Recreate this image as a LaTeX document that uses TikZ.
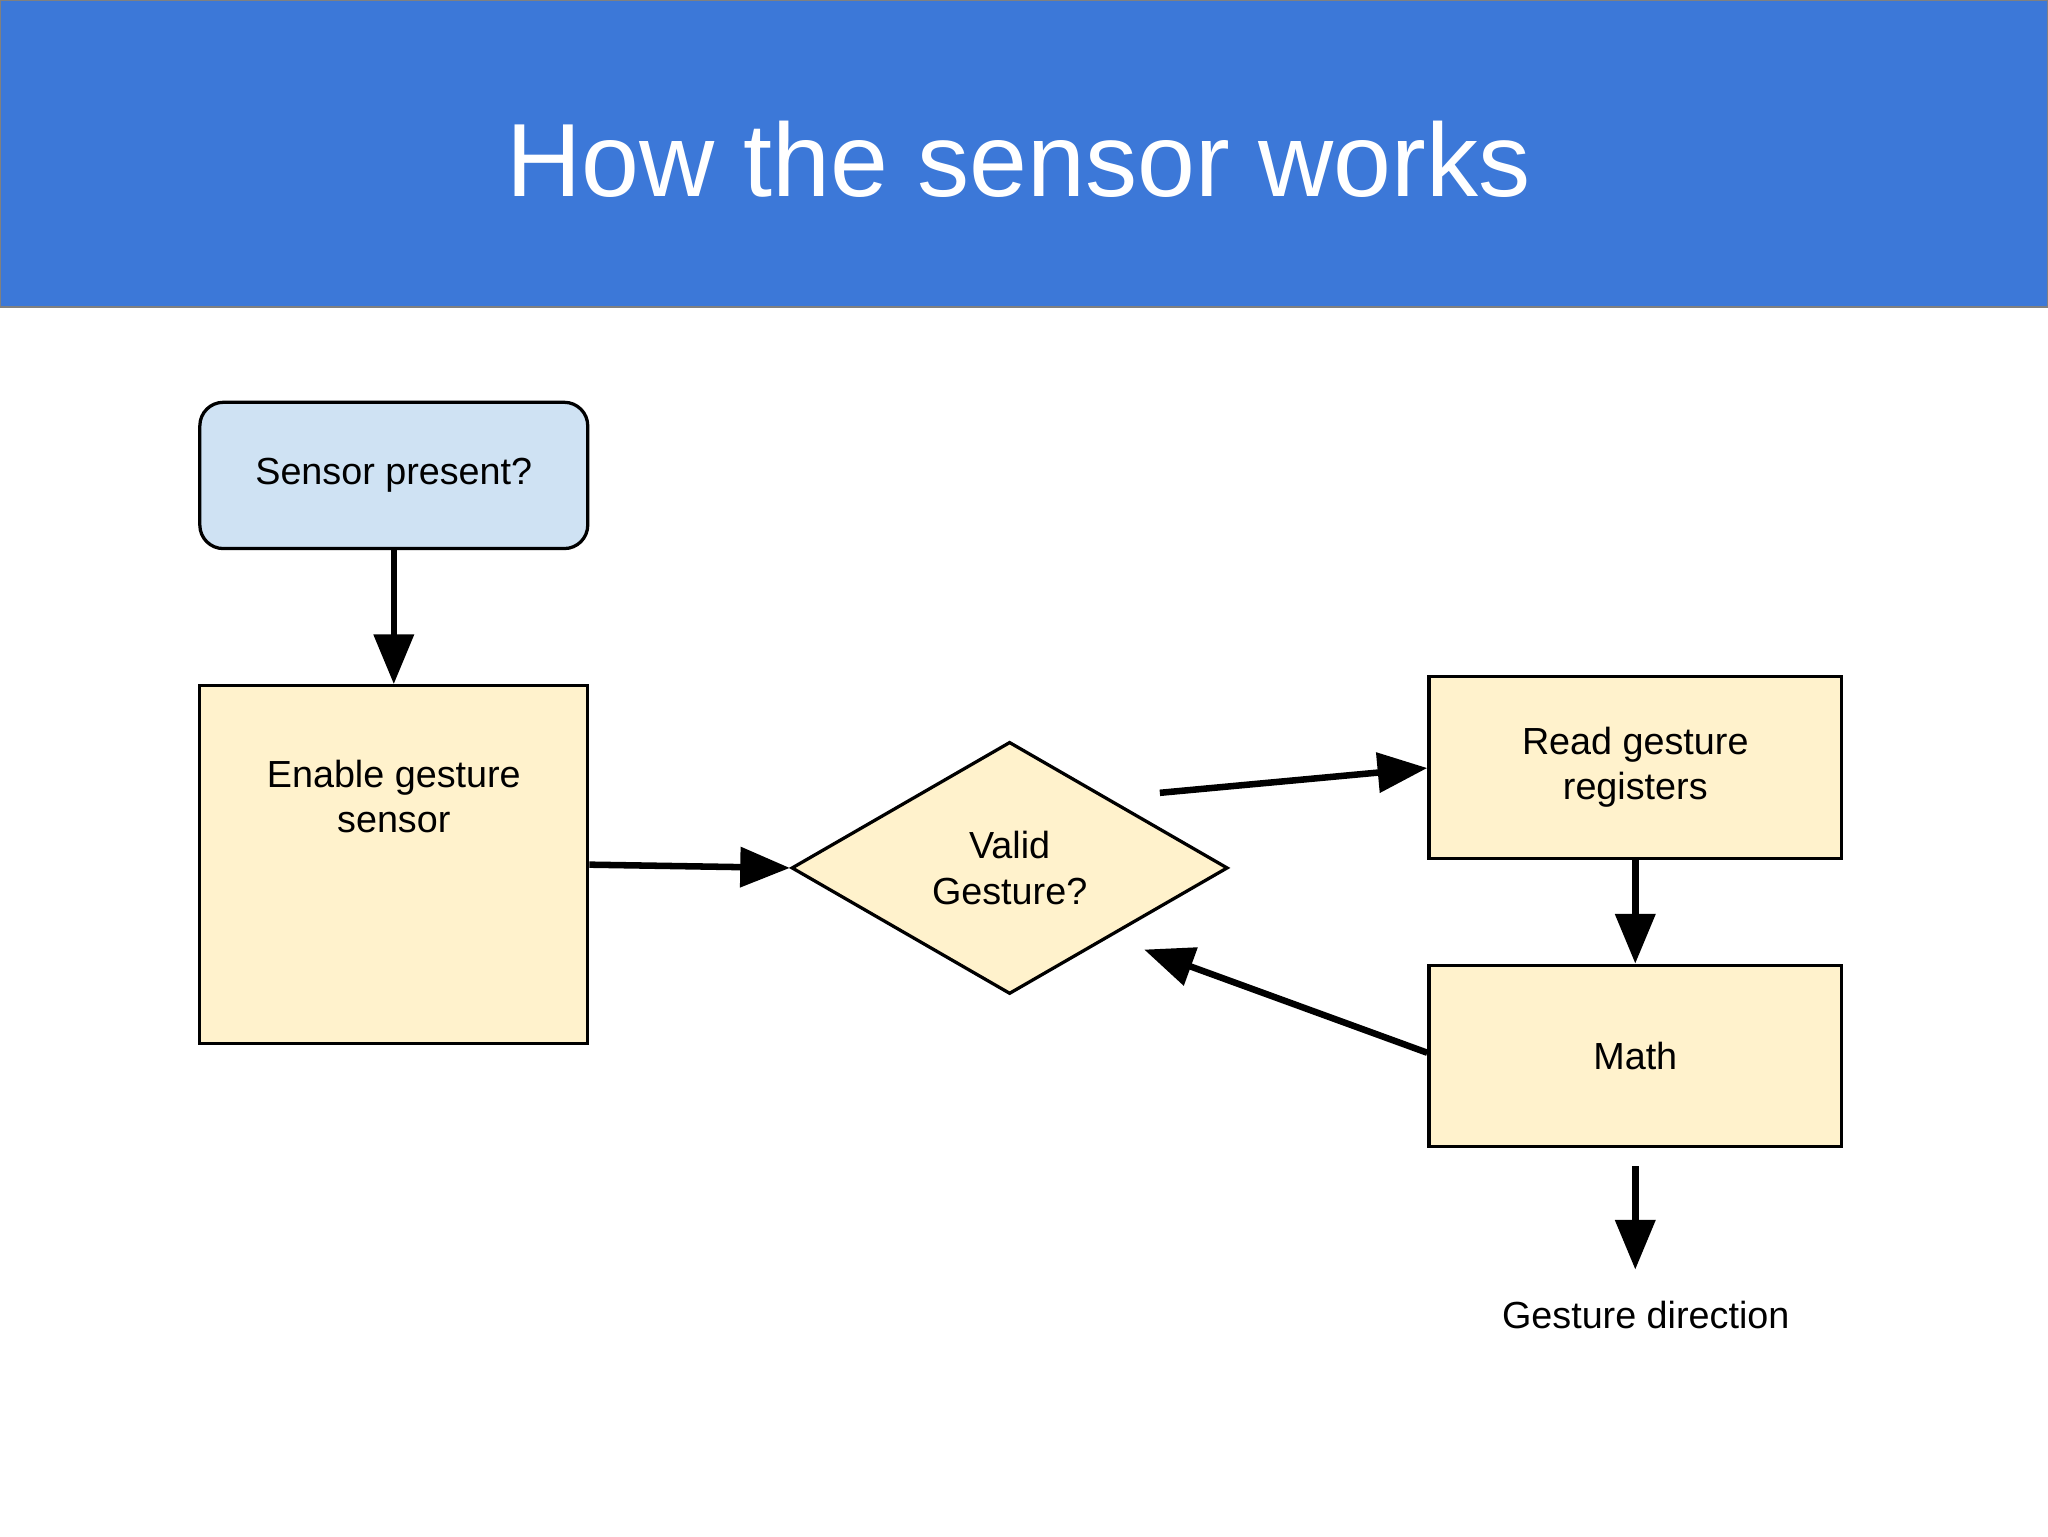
\documentclass[tikz,border=0pt]{standalone}
\usepackage{fontspec}
\setmainfont{Liberation Sans}
\usetikzlibrary{arrows.meta,shapes.geometric}
\definecolor{banner}{HTML}{3C78D8}
\definecolor{bluebox}{HTML}{CFE2F3}
\definecolor{yellowbox}{HTML}{FFF2CC}
\begin{document}
\begin{tikzpicture}[x=1bp,y=-1bp,
  box/.style={draw=black,line width=2.5bp,fill=yellowbox,font=\fontsize{29}{35}\selectfont,align=center,inner sep=0},
  flow/.style={-{Triangle[length=38bp,width=30bp]},line width=5bp}]
\useasboundingbox (0,0) rectangle (1568,1176);
\fill[white] (0,0) rectangle (1568,1176);
\draw[fill=banner,draw=gray,line width=2bp] (0,0) rectangle (1568,235);
\node[text=white,font=\fontsize{80}{96}\selectfont] (title) at (780,122) {How the sensor works};
\node[box,fill=bluebox,rounded corners=18bp,minimum width=297bp,minimum height=112bp] (sensor) at (301.5,364) {Sensor present?};
\node[box,minimum width=297bp,minimum height=274bp] (enable) at (301.5,662) {Enable gesture\\sensor\\[70bp]};
\node[box,diamond,aspect=1.72,minimum width=334bp,minimum height=193bp] (valid) at (773,664.5) {Valid\\Gesture?};
\node[box,minimum width=316bp,minimum height=139bp] (read) at (1252,587.5) {Read gesture\\registers};
\node[box,minimum width=316bp,minimum height=139bp] (math) at (1252,808.5) {Math};
\node[font=\fontsize{29}{35}\selectfont] (dir) at (1260,1007) {Gesture direction};
\coordinate (vout) at (888,607);
\coordinate (vin) at (876,727);
\coordinate (dstart) at (1252,893);
\coordinate (dend) at (1252,972);
\draw[flow] (sensor.south) -- (enable.north);
\draw[flow] (enable.east |- 0,662) -- (valid.west);
\draw[flow] (vout) -- (read.west |- 0,588);
\draw[flow] (read.south) -- (math.north);
\draw[flow] (math.west |- 0,806) -- (vin);
\draw[flow] (dstart) -- (dend);
\end{tikzpicture}
\end{document}
